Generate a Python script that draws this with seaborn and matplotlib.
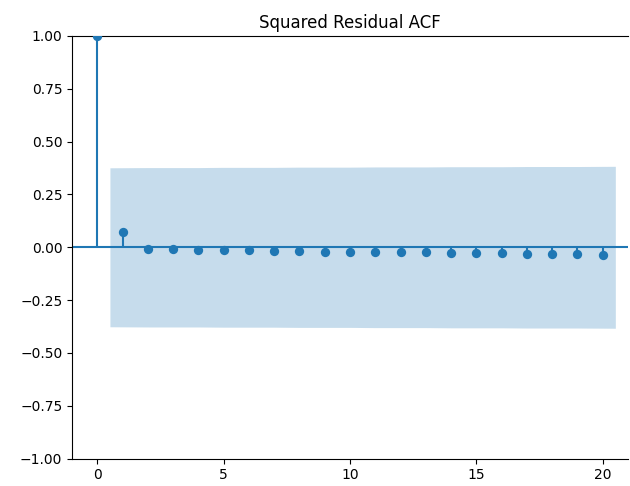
import matplotlib
matplotlib.use("Agg")
import matplotlib.pyplot as plt
import seaborn as sns
import pandas as pd
import numpy as np

# ACF of squared residuals, lags 0..20
lags = list(range(0, 21))
acf_vals = [1.0, 0.073, -0.009, -0.006, -0.013, -0.013, -0.013, -0.018, -0.018,
            -0.022, -0.024, -0.024, -0.024, -0.024, -0.029, -0.029, -0.029,
            -0.034, -0.034, -0.034, -0.038]
# half-width of confidence band for lags 1..20
conf_half = [0.376, 0.377, 0.377, 0.377, 0.378, 0.378, 0.378, 0.379, 0.379,
             0.379, 0.380, 0.380, 0.380, 0.381, 0.381, 0.381, 0.382, 0.382,
             0.382, 0.383]
title = "Squared Residual ACF"

color = "#1f77b4"

fig = plt.figure(figsize=(6.3, 4.86), dpi=100)
ax = fig.add_axes([0.1143, 0.0562, 0.8825, 0.870])

df = pd.DataFrame({"lag": lags, "acf": acf_vals})

# stems and zero line
ax.vlines(df["lag"], 0, df["acf"], color=color, linewidth=1.5)
ax.axhline(0, color=color, linewidth=1.5)

# markers
sns.scatterplot(data=df, x="lag", y="acf", ax=ax, color=color, s=45,
                edgecolor=color, linewidth=0, zorder=3)

# confidence band (first/last edge pushed out by half a lag)
band_x = np.array(lags[1:], dtype=float)
band_x[0] -= 0.5
band_x[-1] += 0.5
half = np.array(conf_half)
ax.fill_between(band_x, -half, half, color=color, alpha=0.25, linewidth=0)

ax.set_xlim(-1, 21)
ax.set_ylim(-1, 1)
ax.set_yticks([-1.0, -0.75, -0.5, -0.25, 0.0, 0.25, 0.5, 0.75, 1.0])
ax.set_xticks([0, 5, 10, 15, 20])
ax.set_xlabel("")
ax.set_ylabel("")
ax.set_title(title, fontsize=12)
ax.spines["right"].set_visible(False)

fig.savefig("out.png", dpi=100)
